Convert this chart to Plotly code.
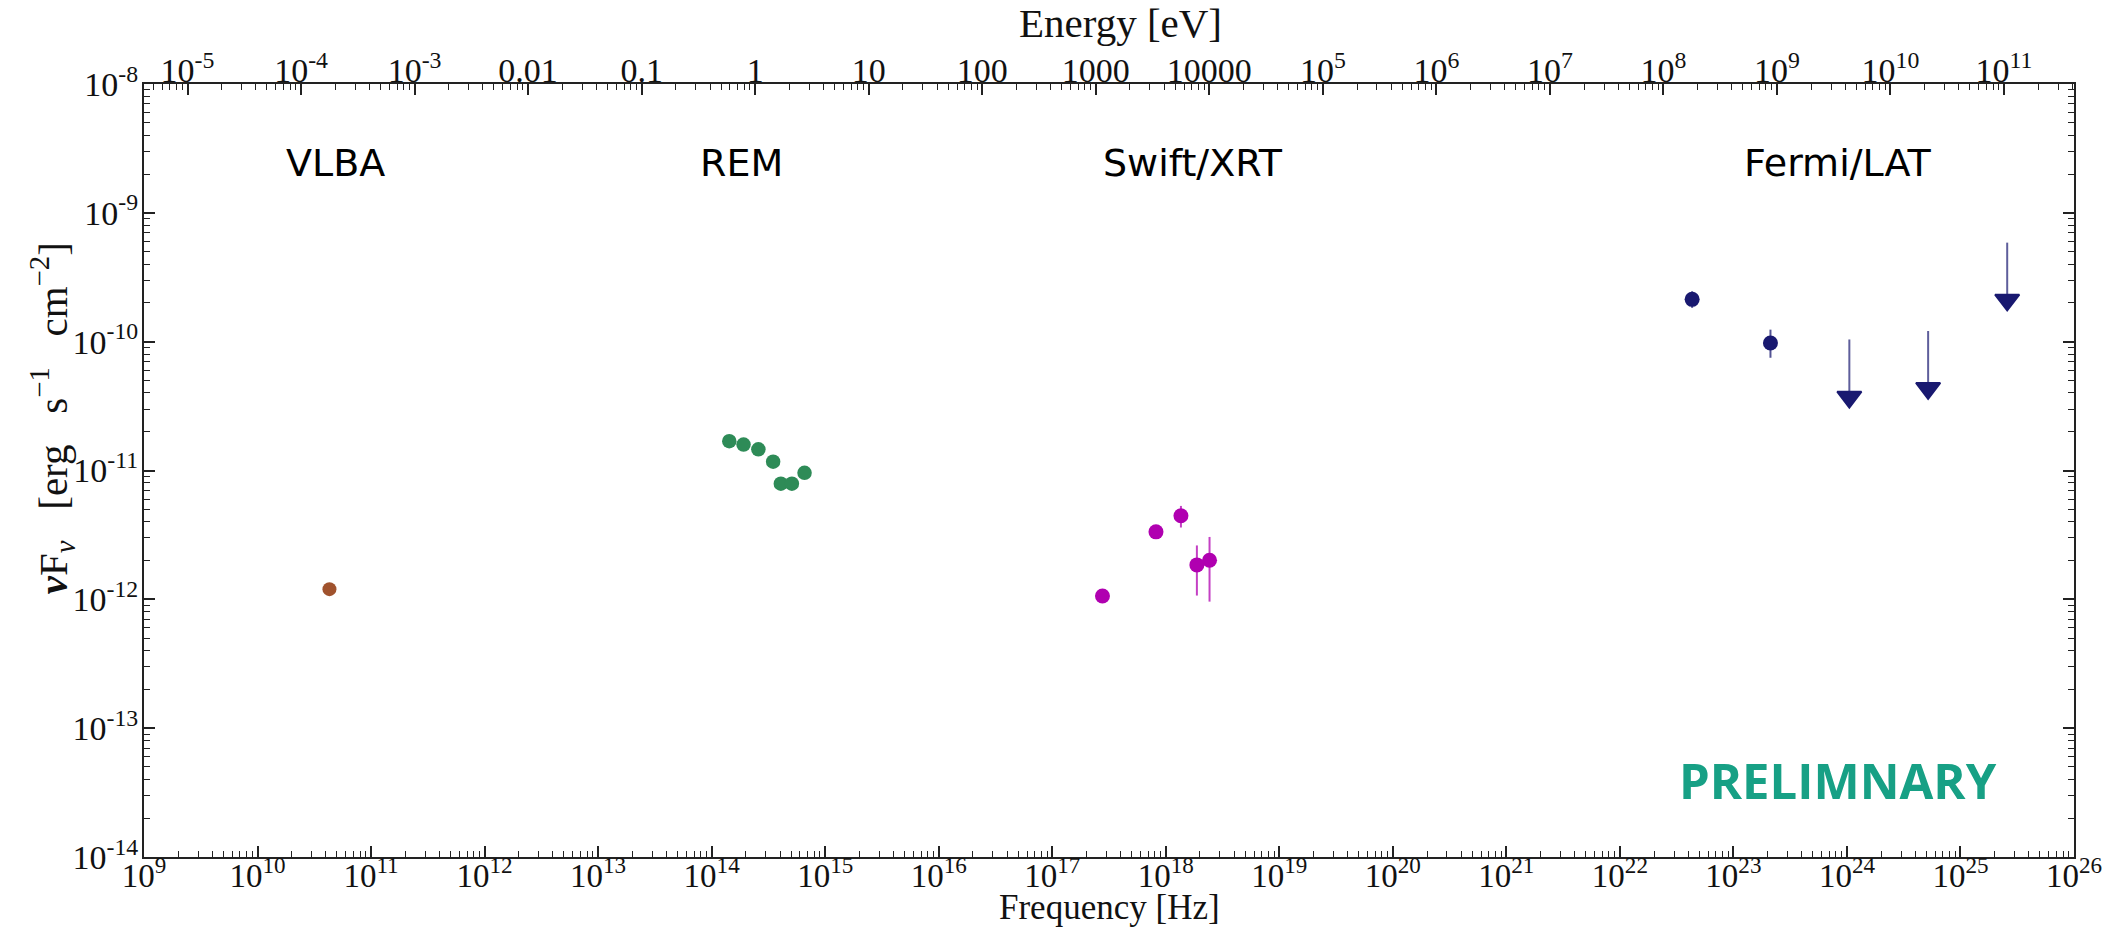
import numpy as np
import plotly.graph_objects as go

# ---------------- data ----------------
vlba_freq = [4.3e10]
vlba_flux = [1.2e-12]

rem_freq = [1.43e14, 1.91e14, 2.58e14, 3.48e14, 4.07e14, 5.09e14, 6.58e14]
rem_flux = [1.69e-11, 1.59e-11, 1.46e-11, 1.17e-11, 7.9e-12, 7.9e-12, 9.6e-12]

xrt_freq = [2.77e17, 8.2e17, 1.36e18, 1.88e18, 2.43e18]
xrt_flux = [1.06e-12, 3.34e-12, 4.45e-12, 1.85e-12, 2.01e-12]
xrt_hi = [1.10e-12, 3.50e-12, 5.31e-12, 2.62e-12, 3.05e-12]
xrt_lo = [1.02e-12, 3.18e-12, 3.61e-12, 1.07e-12, 0.96e-12]

lat_freq = [4.33e22, 2.12e23]
lat_flux = [2.13e-10, 9.77e-11]
lat_hi = [2.46e-10, 1.24e-10]
lat_lo = [1.83e-10, 7.5e-11]

ul_freq = [1.05e24, 5.19e24, 2.58e25]
ul_top = [1.04e-10, 1.21e-10, 5.87e-10]
ul_arrow = [3.72e-11, 4.35e-11, 2.11e-10]

labels = ["VLBA", "REM", "Swift/XRT", "Fermi/LAT"]
label_freq = [4.9e10, 1.82e14, 1.75e18, 8.4e23]
label_flux = 2.42e-9

freq_ticks = list(range(9, 27))
flux_ticks = list(range(-14, -7))
energy_ticks = list(range(-5, 12))
energy_ticktext = ["10<sup>-5</sup>", "10<sup>-4</sup>", "10<sup>-3</sup>", "0.01", "0.1",
                   "1", "10", "100", "1000", "10000", "10<sup>5</sup>", "10<sup>6</sup>",
                   "10<sup>7</sup>", "10<sup>8</sup>", "10<sup>9</sup>", "10<sup>10</sup>",
                   "10<sup>11</sup>"]

H_EV = 4.135667696e-15  # Planck constant in eV s
# ----------------------------------------------------------------

def minors(d0, d1):
    return [m * 10.0 ** d for d in range(d0, d1) for m in range(2, 10)]

AX = "#222222"
SERIF = "Liberation Serif"
TICKFONT = dict(family=SERIF, size=34, color="#111111")

fig = go.Figure()

fig.add_trace(go.Scatter(x=vlba_freq, y=vlba_flux, mode="markers",
                         marker=dict(color="#A0522D", size=14)))
fig.add_trace(go.Scatter(x=rem_freq, y=rem_flux, mode="markers",
                         marker=dict(color="#2E8B57", size=14.5)))
fig.add_trace(go.Scatter(
    x=xrt_freq, y=xrt_flux, mode="markers",
    marker=dict(color="#B000B0", size=15),
    error_y=dict(type="data", symmetric=False,
                 array=[h - f for h, f in zip(xrt_hi, xrt_flux)],
                 arrayminus=[f - l for f, l in zip(xrt_flux, xrt_lo)],
                 color="rgba(176,0,176,0.75)", thickness=2, width=0)))
fig.add_trace(go.Scatter(
    x=lat_freq, y=lat_flux, mode="markers",
    marker=dict(color="#191970", size=15),
    error_y=dict(type="data", symmetric=False,
                 array=[h - f for h, f in zip(lat_hi, lat_flux)],
                 arrayminus=[f - l for f, l in zip(lat_flux, lat_lo)],
                 color="rgba(25,25,112,0.75)", thickness=2, width=0)))
fig.add_trace(go.Scatter(
    x=ul_freq, y=ul_arrow, mode="markers",
    marker=dict(color="#191970", size=21, symbol="triangle-down",
                line=dict(color="#191970", width=2)),
    error_y=dict(type="data", symmetric=False,
                 array=[t - a for t, a in zip(ul_top, ul_arrow)],
                 arrayminus=[0] * len(ul_arrow),
                 color="rgba(25,25,112,0.7)", thickness=2, width=0)))

# invisible trace to activate the top (energy) axis
fig.add_trace(go.Scatter(x=[1.0], y=[1e-20], xaxis="x2", mode="markers",
                         marker=dict(opacity=0), hoverinfo="skip"))

for t, fx in zip(labels, label_freq):
    fig.add_annotation(x=np.log10(fx), y=np.log10(label_flux), text=t, showarrow=False,
                       font=dict(family="DejaVu Sans", size=38, color="black"),
                       xanchor="center", yanchor="middle")

fig.add_annotation(x=np.log10(8.4e23), y=np.log10(3.95e-14), text="<b>PRELIMNARY</b>",
                   showarrow=False, xanchor="center", yanchor="middle",
                   font=dict(family="Open Sans", size=49, color="#17A085"))

# axis titles
fig.add_annotation(xref="paper", yref="paper", x=0.5, y=-0.0915, text="Frequency [Hz]",
                   showarrow=False, xanchor="center", yanchor="bottom", borderpad=0,
                   font=dict(family=SERIF, size=35, color="#111111"))
fig.add_annotation(xref="paper", yref="paper", x=0.5057, y=1.079, text="Energy [eV]",
                   showarrow=False, xanchor="center", yanchor="middle",
                   font=dict(family=SERIF, size=41, color="#111111"))
fig.add_annotation(xref="paper", yref="paper", x=-0.0475, y=0.568,
                   text=("<i><b>ν</b></i>F<sub><i>ν</i></sub>&nbsp;&nbsp;&nbsp;[erg&nbsp;&nbsp;&nbsp;"
                         "s<sup>−1</sup>&nbsp;&nbsp;&nbsp;cm<sup>−2</sup>]"),
                   textangle=-90, showarrow=False, xanchor="center", yanchor="middle",
                   font=dict(family=SERIF, size=41, color="#111111"))

fig.update_layout(
    width=2114, height=928,
    margin=dict(l=144, r=40, t=84, b=71),
    paper_bgcolor="white", plot_bgcolor="white",
    showlegend=False,
    xaxis=dict(type="log", range=[9, 26], showgrid=False, zeroline=False,
               showline=True, linecolor=AX, linewidth=2, mirror=False,
               ticks="inside", ticklen=11, tickwidth=1.5, tickcolor=AX,
               tickmode="array", tickvals=[10.0 ** d for d in freq_ticks],
               ticktext=[f"10<sup>{d}</sup>" for d in freq_ticks],
               tickfont=dict(family=SERIF, size=33, color="#111111"),
               ticklabelstandoff=-12,
               minor=dict(ticks="inside", ticklen=6, tickwidth=1.2, tickcolor=AX,
                          tickmode="array", tickvals=minors(9, 26), showgrid=False)),
    xaxis2=dict(type="log", overlaying="x", side="top", anchor="y",
                range=[9 + np.log10(H_EV), 26 + np.log10(H_EV)],
                showgrid=False, zeroline=False,
                showline=True, linecolor=AX, linewidth=2,
                ticks="inside", ticklen=11, tickwidth=1.5, tickcolor=AX,
                tickmode="array", tickvals=[10.0 ** d for d in energy_ticks],
                ticktext=energy_ticktext, tickfont=TICKFONT, ticklabelstandoff=-14,
                minor=dict(ticks="inside", ticklen=6, tickwidth=1.2, tickcolor=AX,
                           tickmode="array", tickvals=minors(-6, 12), showgrid=False)),
    yaxis=dict(type="log", range=[-14, -8], showgrid=False, zeroline=False,
               showline=True, linecolor=AX, linewidth=2, mirror="ticks",
               ticks="inside", ticklen=11, tickwidth=1.5, tickcolor=AX,
               tickmode="array", tickvals=[10.0 ** d for d in flux_ticks],
               ticktext=[f"10<sup>{d}</sup>" for d in flux_ticks],
               tickfont=TICKFONT, ticklabelstandoff=-3,
               minor=dict(ticks="inside", ticklen=6, tickwidth=1.2, tickcolor=AX,
                          tickmode="array", tickvals=minors(-14, -8), showgrid=False)),
)

fig.write_html("out.html")
